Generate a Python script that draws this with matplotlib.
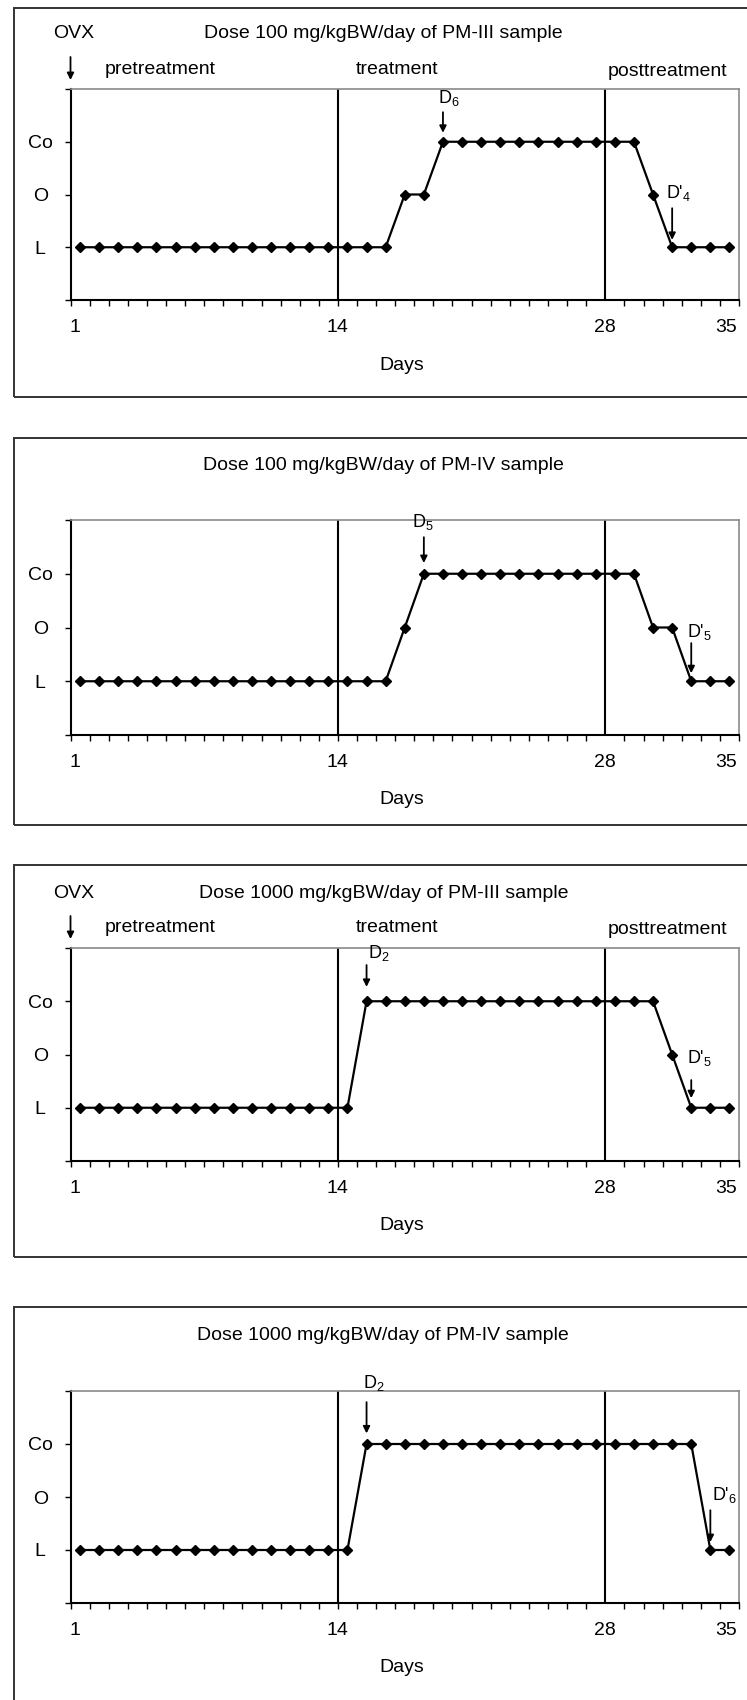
import numpy as np
import matplotlib.pyplot as plt
from matplotlib.patches import Rectangle

plt.rcParams['font.family'] = ['Liberation Sans', 'DejaVu Sans']
plt.rcParams['mathtext.fontset'] = 'custom'
plt.rcParams['mathtext.rm'] = 'Liberation Sans'

# ---- data ----
days = np.arange(1, 36)
level_names = ['L', 'O', 'Co']
level_value = {'L': 1, 'O': 2, 'Co': 3}

titles = [
    'Dose 100 mg/kgBW/day of PM-III sample',
    'Dose 100 mg/kgBW/day of PM-IV sample',
    'Dose 1000 mg/kgBW/day of PM-III sample',
    'Dose 1000 mg/kgBW/day of PM-IV sample',
]

stage_pm3_100 = ['L', 'L', 'L', 'L', 'L', 'L', 'L', 'L', 'L', 'L', 'L', 'L', 'L', 'L', 'L', 'L', 'L',
                 'O', 'O',
                 'Co', 'Co', 'Co', 'Co', 'Co', 'Co', 'Co', 'Co', 'Co', 'Co', 'Co',
                 'O',
                 'L', 'L', 'L', 'L']
stage_pm4_100 = ['L', 'L', 'L', 'L', 'L', 'L', 'L', 'L', 'L', 'L', 'L', 'L', 'L', 'L', 'L', 'L', 'L',
                 'O',
                 'Co', 'Co', 'Co', 'Co', 'Co', 'Co', 'Co', 'Co', 'Co', 'Co', 'Co', 'Co',
                 'O', 'O',
                 'L', 'L', 'L']
stage_pm3_1000 = ['L', 'L', 'L', 'L', 'L', 'L', 'L', 'L', 'L', 'L', 'L', 'L', 'L', 'L', 'L',
                  'Co', 'Co', 'Co', 'Co', 'Co', 'Co', 'Co', 'Co', 'Co', 'Co', 'Co', 'Co', 'Co', 'Co',
                  'Co', 'Co',
                  'O',
                  'L', 'L', 'L']
stage_pm4_1000 = ['L', 'L', 'L', 'L', 'L', 'L', 'L', 'L', 'L', 'L', 'L', 'L', 'L', 'L', 'L',
                  'Co', 'Co', 'Co', 'Co', 'Co', 'Co', 'Co', 'Co', 'Co', 'Co', 'Co', 'Co', 'Co', 'Co',
                  'Co', 'Co', 'Co', 'Co',
                  'L', 'L']
series = [stage_pm3_100, stage_pm4_100, stage_pm3_1000, stage_pm4_1000]

# treatment day markers (D_n) and posttreatment markers (D'_n)
d_labels = [r'D$_\mathregular{6}$', r'D$_\mathregular{5}$', r'D$_\mathregular{2}$', r'D$_\mathregular{2}$']
d_days = [20, 19, 16, 16]
dp_labels = [r"D'$_\mathregular{4}$", r"D'$_\mathregular{5}$", r"D'$_\mathregular{5}$", r"D'$_\mathregular{6}$"]
dp_days = [32, 33, 33, 34]

phase_labels = ['pretreatment', 'treatment', 'posttreatment']
phase_bounds = [14.5, 28.5]
xtick_labels = ['1', '14', '28', '35']
show_phases = [True, False, True, False]

# ---- layout (pixels of a 747 x 1700 canvas) ----
W, H = 747, 1700
ax_left, ax_right = 70.5, 739
ax_tops = [89, 520, 948, 1391]
ax_bottoms = [300, 735, 1161, 1603]
box_tops = [8, 438, 865, 1307]
box_bottoms = [397, 825, 1257, 1710]
# (text x offset, text y, arrow start, arrow end)
d_pos = [(-0.25, 3.83, 3.56, 3.17), (-0.6, 3.96, 3.68, 3.20),
         (0.05, 3.90, 3.68, 3.27), (-0.2, 4.15, 3.79, 3.20)]
dp_pos = [(-0.3, 2.03, 1.74, 1.14), (-0.2, 1.92, 1.71, 1.15),
          (-0.2, 1.93, 1.52, 1.18), (0.1, 2.04, 1.75, 1.15)]
xtick_pos = [0.75, 14.45, 28.5, 34.85]
phase_x = [2.3, 15.45, 28.6]

FS = 14
fig = plt.figure(figsize=(W / 100, H / 100), dpi=100)


def pt(px):
    return px * 0.72


for i in range(4):
    # outer frame
    fig.add_artist(Rectangle((14 / W, 1 - box_bottoms[i] / H), (760 - 14) / W,
                             (box_bottoms[i] - box_tops[i]) / H, transform=fig.transFigure,
                             fill=False, edgecolor='#333333', lw=1.4))

    ax = fig.add_axes([ax_left / W, 1 - ax_bottoms[i] / H, (ax_right - ax_left) / W,
                       (ax_bottoms[i] - ax_tops[i]) / H])
    y = [level_value[s] for s in series[i]]
    ax.plot(days, y, color='black', lw=1.6, marker='D', markersize=5.5, zorder=3)
    for b in phase_bounds:
        ax.axvline(b, color='black', lw=1.5)

    ax.set_xlim(0.5, 35.5)
    ax.set_ylim(0, 4)
    ax.set_xticks(xtick_pos, xtick_labels, fontsize=FS)
    ax.set_xticks(np.arange(0.5, 36), minor=True)
    ax.tick_params(axis='x', which='major', length=0, pad=pt(19))
    ax.tick_params(axis='x', which='minor', length=4, width=1, direction='out')
    ax.set_yticks([0, 1, 2, 3, 4], [''] + level_names + [''], fontsize=FS)
    ax.tick_params(axis='y', length=4.5, width=1, pad=pt(24))
    for lab in ax.get_yticklabels():
        lab.set_ha('center')

    for side in ['left', 'bottom']:
        ax.spines[side].set_linewidth(1.5)
        ax.spines[side].set_color('black')
    for side in ['top', 'right']:
        ax.spines[side].set_linewidth(1.2)
        ax.spines[side].set_color('#8a8a8a')

    # title and x label
    ax.annotate(titles[i], xy=(16.88, 1), xycoords=('data', 'axes fraction'),
                xytext=(0, pt(55)), textcoords='offset points',
                ha='center', va='center', fontsize=FS)
    ax.annotate('Days', xy=(0.495, 0), xycoords='axes fraction',
                xytext=(0, -pt(65)), textcoords='offset points',
                ha='center', va='center', fontsize=FS)

    if show_phases[i]:
        ax.annotate('OVX', xy=(0.66, 1), xycoords=('data', 'axes fraction'),
                    xytext=(0, pt(55)), textcoords='offset points',
                    ha='center', va='center', fontsize=FS)
        ax.annotate('', xy=(0.5, 1), xycoords=('data', 'axes fraction'),
                    xytext=(0.5, 1 + 32 / (ax_bottoms[i] - ax_tops[i])),
                    textcoords=('data', 'axes fraction'),
                    arrowprops=dict(arrowstyle='-|>', color='black', lw=1.3,
                                    mutation_scale=10, shrinkA=0, shrinkB=pt(9)),
                    annotation_clip=False)
        for k, lab in enumerate(phase_labels):
            ax.annotate(lab, xy=(phase_x[k], 1), xycoords=('data', 'axes fraction'),
                        xytext=(0, pt(20 if k < 2 else 18)), textcoords='offset points',
                        ha='left', va='center', fontsize=FS)

    for lab, day, pos in [(d_labels[i], d_days[i], d_pos[i]), (dp_labels[i], dp_days[i], dp_pos[i])]:
        dx, ty, ys, ye = pos
        ax.text(day + dx, ty, lab, ha='left', va='center', fontsize=FS - 1, clip_on=False)
        ax.annotate('', xy=(day, ye), xytext=(day, ys),
                    arrowprops=dict(arrowstyle='-|>', color='black', lw=1.3,
                                    mutation_scale=10, shrinkA=0, shrinkB=0),
                    annotation_clip=False)

fig.savefig('out.png', dpi=100, facecolor='white')
